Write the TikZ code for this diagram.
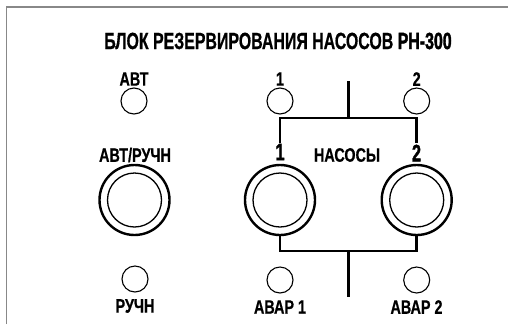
\documentclass[tikz,border=0pt]{standalone}
\usepackage{fontspec}
\usepackage{tikz}
\newfontfamily\panelfont{Liberation Sans Bold}[FakeStretch=0.74,FakeBold=0.6]
\newfontfamily\titlefont{Liberation Sans Bold}[FakeStretch=0.68,FakeBold=0.6]
\newfontfamily\heavyfont{Liberation Sans Bold}[FakeStretch=0.68,FakeBold=1.6]
\definecolor{framegray}{RGB}{136,136,136}

\begin{document}
\begin{tikzpicture}[x=1bp,y=-1bp,
  lbl/.style={inner sep=1pt, font=\panelfont\fontsize{19.5}{19.5}\selectfont},
  bignum/.style={inner sep=1pt, font=\heavyfont\fontsize{24}{24}\selectfont},
  led/.style={circle, draw, line width=1.1bp, minimum size=26bp, inner sep=0pt},
  knob/.style={circle, draw, line width=2.4bp, minimum size=70bp, inner sep=0pt},
  knobin/.style={circle, draw, line width=1.3bp, minimum size=54bp, inner sep=0pt},
  bus/.style={line width=2.6bp}]
\useasboundingbox (0,0) rectangle (508,324);
\draw [color=framegray, line width=1.2bp] (6.5,324) -- (6.5,7) -- (508,7);
% title
\node (title) at (278,41) {\titlefont\fontsize{23.5}{23.5}\selectfont БЛОК РЕЗЕРВИРОВАНИЯ НАСОСОВ {\heavyfont РН-300}};
% mode
\node[lbl] (autolbl) at (134,79) {АВТ};
\node[led] (autoled) at (134,101) {};
\node[lbl] (modelbl) at (135,155) {АВТ/РУЧН};
\node[knob] (mode) at (134.5,200) {};
\node[knobin] at (mode) {};
\node[led] (manled) at (135,279) {};
\node[lbl] (manlbl) at (135,306) {РУЧН};
% pumps
\node[lbl] (onelbl) at (280,79) {1};
\node[led] (oneled) at (280,101) {};
\node[lbl] (twolbl) at (416.7,79) {2};
\node[led] (twoled) at (416.7,101) {};
\node[bignum] (num1) at (280,152) {1};
\node[bignum] (num2) at (416.5,153) {2};
\node[lbl] (pumps) at (347,155) {НАСОСЫ};
\node[knob] (pump1) at (280,200) {};
\node[knobin] at (pump1) {};
\node[knob] (pump2) at (416.7,200) {};
\node[knobin] at (pump2) {};
\node[led] (alarm1led) at (280,280) {};
\node[lbl] (alarm1lbl) at (280,307) {АВАР 1};
\node[led] (alarm2led) at (416.7,280) {};
\node[lbl] (alarm2lbl) at (416.5,307) {АВАР 2};
% brackets
\coordinate (hubtop) at (348.3,81);
\coordinate (topbus) at (348.3,118);
\coordinate (botbus) at (348.3,251);
\coordinate (hubbot) at (348.3,297);
\draw[bus] (num1.north) |- (topbus) -| (num2.north);
\draw[bus] (topbus) -- (hubtop);
\draw[bus] (pump1.south) |- (botbus) -| (pump2.south);
\draw[bus] (botbus) -- (hubbot);
\end{tikzpicture}
\end{document}
